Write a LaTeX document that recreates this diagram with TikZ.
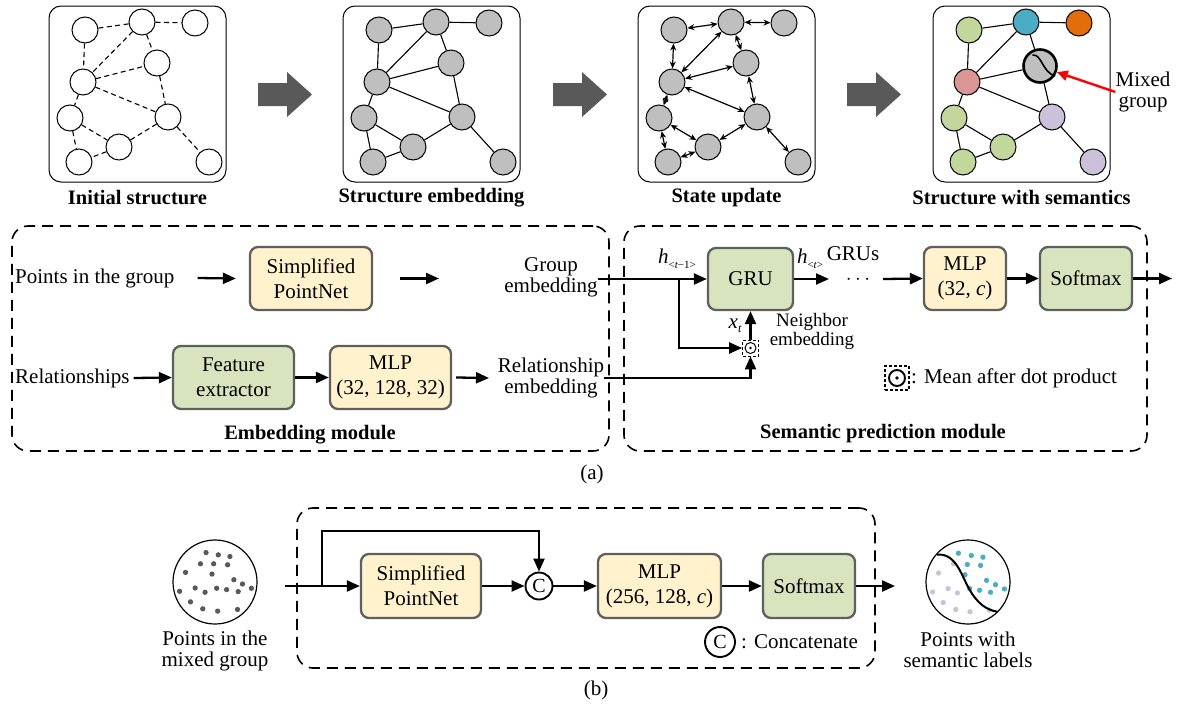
\documentclass[tikz,border=0pt]{standalone}
\usepackage{fontspec}
\setmainfont{Liberation Serif}
\usetikzlibrary{arrows.meta}
\definecolor{bgray}{HTML}{5F5F5F}
\definecolor{yfill}{HTML}{FFF2CC}
\definecolor{gfill}{HTML}{D7E4BD}
\definecolor{ngray}{HTML}{BFBFBF}
\definecolor{arrgray}{HTML}{595959}
\definecolor{cgreen}{HTML}{C3D69B}
\definecolor{cteal}{HTML}{4BACC6}
\definecolor{corange}{HTML}{E46C0A}
\definecolor{cpink}{HTML}{D99694}
\definecolor{clav}{HTML}{CCC1DA}
\definecolor{dotgray}{HTML}{595959}
\newcommand{\placegraph}[3]{%
 \begin{scope}[shift={(#2,0)}]
 \node[#3] (#1A) at (85,30) {};
 \node[#3] (#1B) at (142,22) {};
 \node[#3] (#1C) at (195,23) {};
 \node[#3] (#1D) at (157,63) {};
 \node[#3] (#1E) at (83,82) {};
 \node[#3] (#1F) at (70,118) {};
 \node[#3] (#1G) at (168,117) {};
 \node[#3] (#1H) at (119,147) {};
 \node[#3] (#1I) at (79,162) {};
 \node[#3] (#1J) at (209,162) {};
 \end{scope}}
\newcommand{\graphedges}[2]{%
 \foreach \u/\v in {A/B,B/C,A/E,B/E,B/D,E/D,E/G,D/G,E/F,F/H,F/I,H/I,H/G,G/J}
   \draw[#2] (#1\u) -- (#1\v);}
\tikzset{
 txt/.style={font=\fontsize{21pt}{21pt}\selectfont, align=center, inner sep=0pt},
 btxt/.style={font=\bfseries\fontsize{20.5pt}{22pt}\selectfont, inner sep=0pt},
 blk/.style={draw=bgray, line width=2.3pt, rounded corners=8pt, align=center,
   font=\fontsize{21pt}{25pt}\selectfont, inner sep=0pt},
 ybox/.style={blk, fill=yfill},
 gbox/.style={blk, fill=gfill},
 arr/.style={line width=2.3pt, -{Triangle[length=13pt,width=11pt]}},
 gn/.style={circle, draw, line width=1pt, minimum size=26pt, inner sep=0pt},
 panel/.style={draw, line width=1pt, rounded corners=12pt, minimum width=177pt, minimum height=176pt},
 dashbox/.style={draw, line width=1.6pt, dash pattern=on 11pt off 7pt, rounded corners=16pt},
 dedge/.style={line width=1.1pt, dash pattern=on 5pt off 3.5pt},
 sedge/.style={line width=1.1pt},
 aedge/.style={line width=1.2pt, {Stealth[length=7pt,width=6pt]}-{Stealth[length=7pt,width=6pt]}},
 bigc/.style={circle, draw, line width=1.2pt, minimum size=84pt, inner sep=0pt},
 cc/.style={circle, draw, line width=1.9pt, inner sep=0pt, font=\fontsize{20pt}{20pt}\selectfont},
}
\begin{document}
\begin{tikzpicture}[x=1pt,y=-1pt]
\useasboundingbox (0,0) rectangle (1180,707);
% ---------- top panels ----------
\foreach \p/\dx in {1/0,2/294,3/589,4/884}
  \node[panel] (panel\p) at (137.5+\dx,94) {};
\placegraph{a}{0}{gn, fill=white}
\graphedges{a}{dedge}
\placegraph{b}{294}{gn, fill=ngray}
\graphedges{b}{sedge}
\placegraph{c}{589}{gn, fill=ngray}
\graphedges{c}{aedge}
\begin{scope}[shift={(884,0)}]
 \node[gn, fill=cgreen] (dA) at (85,30) {};
 \node[gn, fill=cteal] (dB) at (142,22) {};
 \node[gn, fill=corange] (dC) at (195,23) {};
 \node[circle, draw, line width=2.6pt, minimum size=33pt, inner sep=0pt, fill=ngray] (dD) at (156,66) {};
 \node[gn, fill=cpink] (dE) at (83,82) {};
 \node[gn, fill=cgreen] (dF) at (70,118) {};
 \node[gn, fill=clav] (dG) at (168,117) {};
 \node[gn, fill=cgreen] (dH) at (119,147) {};
 \node[gn, fill=cgreen] (dI) at (79,162) {};
 \node[gn, fill=clav] (dJ) at (209,162) {};
 \draw[line width=1.6pt] (148.5,55) .. controls (158,54) and (158,72) .. (171,76);
\end{scope}
\graphedges{d}{sedge}
\node[txt] (mg) at (1143,92) {Mixed\\group};
\draw[red, line width=2.4pt, -{Triangle[length=11pt,width=10pt]}] (mg.west) -- (dD.-20);
\foreach \ax in {258,553,847}
  \fill[arrgray] (\ax,83) -- (\ax+29,83) -- (\ax+29,72) -- (\ax+54,94.5) -- (\ax+29,117) -- (\ax+29,106) -- (\ax,106) -- cycle;
\node[btxt] (l1) at (137.5,198) {Initial structure};
\node[btxt] (l2) at (431.5,198) {Structure embedding};
\node[btxt] (l3) at (726.5,198) {State update};
\node[btxt] (l4) at (1021.5,198) {Structure with semantics};
% ---------- middle (a) ----------
\node[dashbox, minimum width=597pt, minimum height=225pt] (embbox) at (310.5,338.5) {};
\node[dashbox, minimum width=523pt, minimum height=225pt] (sembox) at (885.5,338.5) {};
\node[txt, anchor=west] (pig) at (15,278) {Points in the group};
\node[ybox, minimum width=122pt, minimum height=63pt] (spn) at (311,278.5) {Simplified\\PointNet};
\draw[arr] ([xshift=23pt]pig.east) -- ([xshift=-13pt]spn.west);
\coordinate (geA) at (439,278.5);
\draw[arr] ([xshift=27pt]spn.east) -- (geA);
\node[txt] (ge) at (551,277) {Group\\embedding};
\node[gbox, minimum width=85pt, minimum height=62pt] (gru) at (750.5,279) {GRU};
\draw[arr] (ge.east |- gru.west) -- (gru.west);
\coordinate (br) at (679,279);
\node[draw, densely dashed, line width=0.8pt, minimum size=16pt, inner sep=0pt] (dot) at (750.5,348) {};
\draw[line width=1pt] (dot.center) circle (5.5pt);
\fill (dot.center) circle (1.3pt);
\draw[arr] (br) |- (dot.west);
\draw[arr] (dot.north) -- (gru.south);
\node[txt] (xt) at (735,326) {\itshape x\raisebox{-4pt}{\fontsize{12pt}{12pt}\selectfont t}};
\node[txt] (hp) at (677,259) {\itshape h\raisebox{-5pt}{\fontsize{11pt}{11pt}\selectfont\upshape<\itshape t\upshape −1>}};
\node[txt] (ht) at (810,259) {\itshape h\raisebox{-5pt}{\fontsize{11pt}{11pt}\selectfont\upshape<\itshape t\upshape>}};
\node[txt] (grus) at (853,254) {GRUs};
\node[txt, font=\fontsize{19pt}{19pt}\selectfont] (nb) at (812,331) {Neighbor\\embedding};
\coordinate (htA) at (829,279);
\draw[arr] (gru.east) -- (htA);
\node[inner sep=0pt, font=\fontsize{21pt}{21pt}\selectfont] (ell) at (858,280) {$\cdots$};
\node[ybox, minimum width=82pt, minimum height=63pt] (mlp) at (965,278.5) {MLP\\(32, \textit{c})};
\coordinate (mlpA) at (883,279);
\draw[arr] (mlpA) -- (mlp.west);
\node[gbox, minimum width=92pt, minimum height=63pt] (sm) at (1086,278.5) {Softmax};
\draw[arr] (mlp.east) -- (sm.west);
\coordinate (out1) at (1172,278.5);
\draw[arr] (sm.east) -- (out1);
\node[txt, anchor=west] (rel) at (15,378) {Relationships};
\node[gbox, minimum width=121pt, minimum height=63pt] (fe) at (233.5,377.5) {Feature\\extractor};
\draw[arr] ([xshift=4pt]rel.east) -- (fe.west);
\node[ybox, minimum width=121pt, minimum height=63pt] (mlp1) at (390.5,377.5) {MLP\\(32, 128, 32)};
\draw[arr] (fe.east) -- (mlp1.west);
\coordinate (reA) at (489,378);
\draw[arr] ([xshift=4pt]mlp1.east) -- (reA);
\node[txt] (re) at (551,378) {Relationship\\embedding};
\draw[arr] (re.east) -| (dot.south);
\node[draw, densely dashed, line width=1.7pt, minimum size=24pt, inner sep=0pt] (ld) at (897,378) {};
\draw[line width=1.9pt] (ld.center) circle (8pt);
\fill (ld.center) circle (1.9pt);
\node[txt, anchor=west] (ldt) at (911,378) {: Mean after dot product};
\node[btxt] (eml) at (310,435) {Embedding module};
\node[btxt] (spl) at (883,434) {Semantic prediction module};
\node[txt] (capa) at (592,474) {(a)};
% ---------- bottom (b) ----------
\node[dashbox, minimum width=578pt, minimum height=160pt] (bbox) at (586,588) {};
\node[bigc] (lc) at (215,582) {};
\begin{scope}[shift={(215,582)}, scale=0.331]
 \foreach \px/\py in {140/68,177/75,212/80,123/102,163/102,205/105,78/128,158/133,224/150,250/163,60/185,107/175,137/188,172/176,202/180,237/186,277/176,93/217,130/238,175/245,235/240}
  \fill[dotgray] (\px-167,\py-157) circle (8);
\end{scope}
\node[txt] (lct) at (215,651) {Points in the\\mixed group};
\coordinate (bin) at (285,586);
\coordinate (bbr) at (322,586);
\node[ybox, minimum width=120pt, minimum height=64pt] (spn2) at (421,586) {Simplified\\PointNet};
\node[cc, minimum size=27pt] (cat) at (539,586) {C};
\draw[arr] (bin) -- (spn2.west);
\draw[arr] (bbr) -- (322,531) -| (cat.north);
\draw[arr] (spn2.east) -- (cat.west);
\node[ybox, minimum width=123pt, minimum height=64pt] (mlp2) at (659.5,586) {MLP\\(256, 128, \textit{c})};
\draw[arr] (cat.east) -- (mlp2.west);
\node[gbox, minimum width=92pt, minimum height=64pt] (sm2) at (809,586) {Softmax};
\draw[arr] (mlp2.east) -- (sm2.west);
\coordinate (out2) at (895,586);
\draw[arr] (sm2.east) -- (out2);
\node[bigc] (rc) at (968,582) {};
\begin{scope}[shift={(968,582)}, scale=0.331]
 \foreach \px/\py in {128/100,83/128,65/185,112/175,140/188,97/217,135/238,178/245,237/240}
  \fill[clav] (\px-172,\py-155) circle (8);
 \foreach \px/\py in {143/68,182/75,217/80,170/102,210/105,163/133,228/150,255/163,177/175,207/180,240/186,282/176}
  \fill[cteal] (\px-172,\py-155) circle (8);
 \draw[line width=2pt] (78-172,72-155) .. controls (135-172,68-155) and (150-172,130-155) .. (175-172,175-155) .. controls (200-172,220-155) and (228-172,240-155) .. (262-172,245-155);
\end{scope}
\node[txt] (rct) at (968,650) {Points with\\semantic labels};
\node[cc, minimum size=30pt] (lcat) at (720,642) {C};
\node[txt, anchor=west] (lcatt) at (741,642) {: Concatenate};
\node[txt] (capb) at (596,690) {(b)};
\end{tikzpicture}
\end{document}
